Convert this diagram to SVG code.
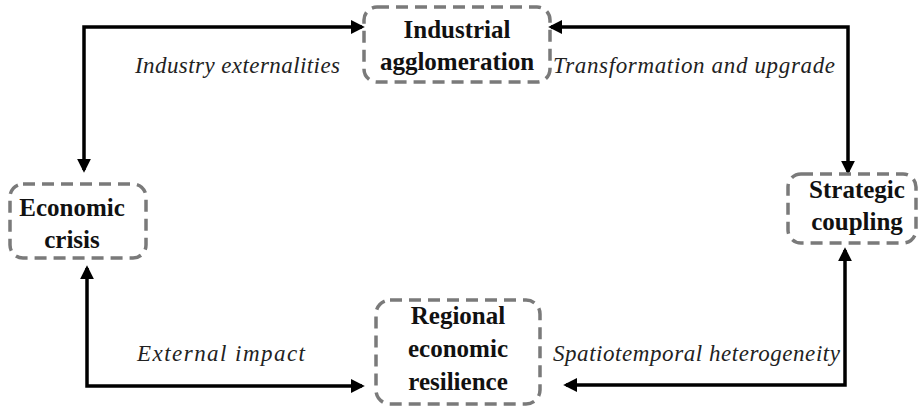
<svg xmlns="http://www.w3.org/2000/svg" width="919" height="408" viewBox="0 0 919 408">
<style>
.box{fill:none;stroke:#7a7a7a;stroke-width:3.5;stroke-dasharray:12 7}
.nt{font-family:'Liberation Serif','Times New Roman','DejaVu Serif',serif;font-weight:700;font-size:25px;fill:#111;text-anchor:middle}
.lb{font-family:'Liberation Serif','Times New Roman','DejaVu Serif',serif;font-style:italic;font-size:23px;fill:#222}
.c{fill:none;stroke:#000;stroke-width:3.5;marker-end:url(#ah);marker-start:url(#ah)}
</style>
<defs>
<marker id="ah" viewBox="0 0 10 10" refX="8" refY="5" markerWidth="4" markerHeight="4" orient="auto-start-reverse" markerUnits="strokeWidth">
<path d="M0,0 L10,5 L0,10 z" fill="#000"/>
</marker>
</defs>
<rect width="919" height="408" fill="#fff"/>
<g id="connectors">
<polyline class="c" points="362,27 84,27 84,170"/>
<polyline class="c" points="551,27 848,27 848,172"/>
<polyline class="c" points="87,268 87,386 362,386"/>
<polyline class="c" points="566,385 845,385 845,250"/>
</g>
<g id="industrial">
<rect class="box" x="364" y="7" width="186" height="75" rx="13"/>
<text class="nt" x="457" y="38">Industrial</text>
<text class="nt" x="457" y="70">agglomeration</text>
</g>
<g id="economic">
<rect class="box" x="10" y="184" width="136" height="74" rx="13"/>
<text class="nt" x="72" y="216">Economic</text>
<text class="nt" x="72" y="248">crisis</text>
</g>
<g id="strategic">
<rect class="box" x="788" y="174" width="128" height="69" rx="13"/>
<text class="nt" x="857" y="198">Strategic</text>
<text class="nt" x="857" y="230">coupling</text>
</g>
<g id="regional">
<rect class="box" x="376" y="300" width="164" height="104" rx="14"/>
<text class="nt" x="458" y="324">Regional</text>
<text class="nt" x="458" y="357">economic</text>
<text class="nt" x="458" y="390">resilience</text>
</g>
<g id="labels">
<text class="lb" x="135" y="73" textLength="205">Industry externalities</text>
<text class="lb" x="553" y="73" textLength="282">Transformation and upgrade</text>
<text class="lb" x="137" y="361" textLength="168">External impact</text>
<text class="lb" x="553" y="361" textLength="287">Spatiotemporal heterogeneity</text>
</g>
</svg>
